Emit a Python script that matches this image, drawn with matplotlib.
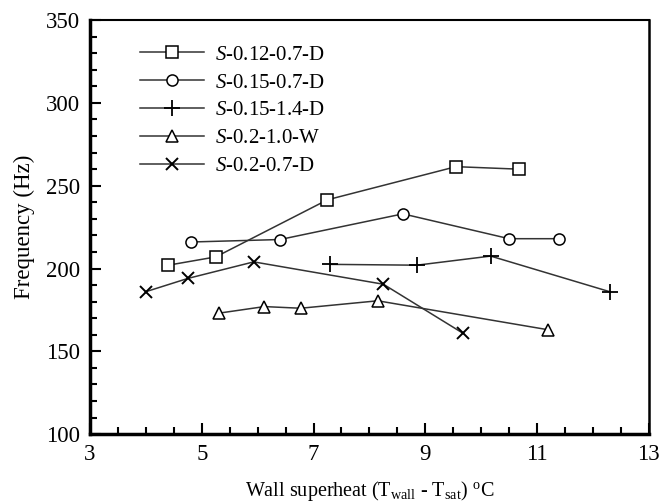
import numpy as np
import matplotlib
matplotlib.use('Agg')
import matplotlib.pyplot as plt

plt.rcParams['font.family'] = ['Liberation Serif', 'DejaVu Serif']
plt.rcParams['mathtext.fontset'] = 'custom'
plt.rcParams['mathtext.rm'] = 'Liberation Serif'
plt.rcParams['mathtext.it'] = 'Liberation Serif:italic'

# data
x_sq = [4.4, 5.25, 7.25, 9.55, 10.67]
y_sq = [202, 207, 241.5, 261.5, 260]
x_ci = [4.8, 6.4, 8.6, 10.5, 11.4]
y_ci = [216, 217.5, 233, 218, 218]
x_pl = [7.3, 8.85, 10.17, 12.3]
y_pl = [202.5, 202, 207.5, 186]
x_tr = [5.3, 6.12, 6.77, 8.15, 11.2]
y_tr = [173, 177, 176, 180.5, 163]
x_xx = [4.0, 4.75, 5.93, 8.25, 9.67]
y_xx = [186, 194, 204, 190.5, 161]

labels = ['$\\it{S}$-0.12-0.7-D', '$\\it{S}$-0.15-0.7-D', '$\\it{S}$-0.15-1.4-D',
          '$\\it{S}$-0.2-1.0-W', '$\\it{S}$-0.2-0.7-D']

fig = plt.figure(figsize=(6.62, 5.03), dpi=100)
ax = fig.add_axes([0.136, 0.137, 0.844, 0.823])

lc = '#333333'
ax.plot(x_sq, y_sq, color=lc, lw=1.1, marker='s', ms=8, mfc='white', mec='black', mew=1.1, label=labels[0])
ax.plot(x_ci, y_ci, color=lc, lw=1.1, marker='o', ms=8, mfc='white', mec='black', mew=1.1, label=labels[1])
ax.plot(x_pl, y_pl, color=lc, lw=1.1, marker='+', ms=12, mec='black', mew=1.3, label=labels[2])
ax.plot(x_tr, y_tr, color=lc, lw=1.1, marker='^', ms=8, mfc='white', mec='black', mew=1.1, label=labels[3])
ax.plot(x_xx, y_xx, color=lc, lw=1.1, marker='x', ms=9, mec='black', mew=1.4, label=labels[4])

ax.set_xlim(3, 13)
ax.set_ylim(100, 350)
ax.set_xticks(np.arange(3, 14, 2))
ax.set_xticks(np.arange(3, 13.01, 0.5), minor=True)
ax.set_yticks(np.arange(100, 351, 50))
ax.set_yticks(np.arange(100, 351, 10), minor=True)
ax.tick_params(which='both', direction='in', width=1.5, labelsize=16.5, top=False, right=False)
ax.tick_params(which='major', length=8, pad=7)
ax.tick_params(which='minor', length=5)

ax.spines['left'].set_linewidth(2.5)
ax.spines['bottom'].set_linewidth(2.5)
ax.spines['top'].set_linewidth(1.5)
ax.spines['right'].set_linewidth(1.8)

ax.set_xlabel('Wall superheat (T$_{\\rm wall}$ - T$_{\\rm sat}$) $^{\\rm o}$C', fontsize=14.5, labelpad=10)
ax.set_ylabel('Frequency (Hz)', fontsize=16.5, labelpad=8)

ax.legend(loc='upper left', frameon=False, fontsize=15, handlelength=3.1,
          labelspacing=0.4, bbox_to_anchor=(0.055, 0.985), handletextpad=0.5)

fig.savefig('out.png', dpi=100)
